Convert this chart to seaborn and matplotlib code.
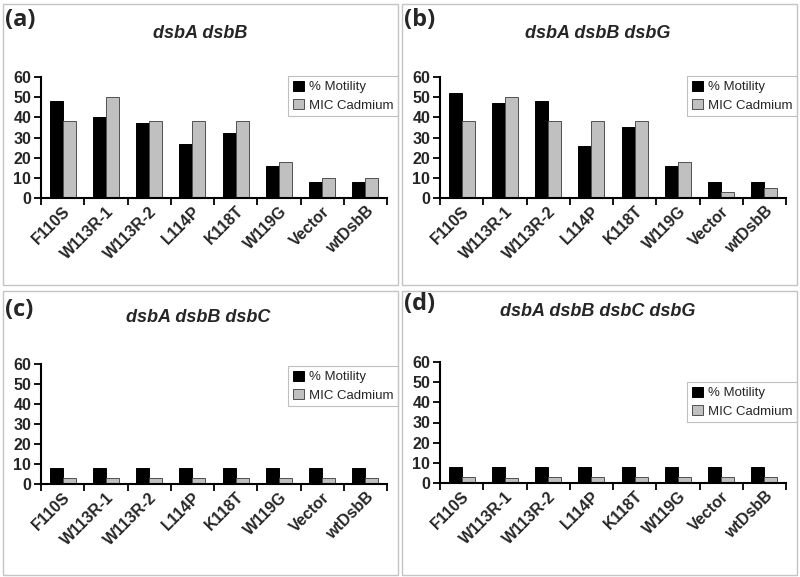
import pandas as pd
import matplotlib
matplotlib.use("Agg")
import matplotlib.pyplot as plt
import matplotlib.patches as mpatches
import seaborn as sns

# ── Data ──────────────────────────────────────────────
strains = ['F110S', 'W113R-1', 'W113R-2', 'L114P', 'K118T', 'W119G', 'Vector', 'wtDsbB']
series_names = ['% Motility', 'MIC Cadmium']

motility_a = [48, 40, 37, 27, 32, 16, 8, 8]
cadmium_a = [38, 50, 38, 38, 38, 18, 10, 10]
motility_b = [52, 47, 48, 26, 35, 16, 8, 8]
cadmium_b = [38, 50, 38, 38, 38, 18, 3, 5]
motility_c = [8, 8, 8, 8, 8, 8, 8, 8]
cadmium_c = [3, 3, 3, 3, 3, 3, 3, 3]
motility_d = [8, 8, 8, 8, 8, 8, 8, 8]
cadmium_d = [3, 2.5, 3, 3, 3, 3, 3, 3]

panel_tags = ['(a)', '(b)', '(c)', '(d)']
panel_titles = ['dsbA dsbB', 'dsbA dsbB dsbG', 'dsbA dsbB dsbC', 'dsbA dsbB dsbC dsbG']
panel_data = [(motility_a, cadmium_a), (motility_b, cadmium_b),
              (motility_c, cadmium_c), (motility_d, cadmium_d)]

colors = ['#000000', '#c0c0c0']
edges = ['#000000', '#505050']

sns.set_theme(style='white')
plt.rcParams['font.family'] = ['Liberation Sans', 'DejaVu Sans']

W, H = 800, 577
fig = plt.figure(figsize=(8, 5.77), dpi=100)

# pixel layouts: panel box, axes box, legend top-right corner, tag pos, title pos
layouts = [
    dict(box=(3, 4, 398, 285), ax=(41, 77, 387, 198), leg=(398, 76), tag=(5, 20), title=(200, 33)),
    dict(box=(402, 4, 797, 285), ax=(440, 77, 786, 198), leg=(797, 76), tag=(404, 20), title=(598, 33)),
    dict(box=(3, 291, 398, 575), ax=(41, 364, 387, 484), leg=(398, 366), tag=(5, 310), title=(198, 318)),
    dict(box=(402, 291, 797, 575), ax=(440, 362, 786, 483), leg=(797, 382), tag=(404, 304), title=(598, 312)),
]

for i, lay in enumerate(layouts):
    # panel frame
    x0, y0, x1, y1 = lay['box']
    fig.patches.append(mpatches.Rectangle((x0 / W, 1 - y1 / H), (x1 - x0) / W, (y1 - y0) / H,
                                          transform=fig.transFigure, fill=False,
                                          edgecolor='#c4c4c4', linewidth=1.0))
    # panel tag and title
    fig.text(lay['tag'][0] / W, 1 - lay['tag'][1] / H, panel_tags[i], fontsize=17,
             fontweight='bold', family=['Open Sans', 'DejaVu Sans'], va='center', ha='left')
    fig.text(lay['title'][0] / W, 1 - lay['title'][1] / H, panel_titles[i], fontsize=13,
             fontweight='bold', style='italic', va='center', ha='center')

    ax0, ay0, ax1, ay1 = lay['ax']
    ax = fig.add_axes([ax0 / W, 1 - ay1 / H, (ax1 - ax0) / W, (ay1 - ay0) / H])

    mot, cad = panel_data[i]
    df = pd.DataFrame({
        'Strain': strains * 2,
        'Value': mot + cad,
        'Measure': [series_names[0]] * len(strains) + [series_names[1]] * len(strains),
    })
    sns.barplot(data=df, x='Strain', y='Value', hue='Measure', palette=colors,
                width=0.6, ax=ax, legend=False, saturation=1)
    for cont, ec in zip(ax.containers, edges):
        for bar in cont:
            bar.set_edgecolor(ec)
            bar.set_linewidth(0.7)

    ax.set_xlim(-0.5, len(strains) - 0.5)
    ax.set_ylim(0, 60)
    ax.set_yticks(range(0, 61, 10))
    ax.set_xlabel('')
    ax.set_ylabel('')
    sns.despine(ax=ax)
    for s in ['left', 'bottom']:
        ax.spines[s].set_color('black')
        ax.spines[s].set_linewidth(1.5)

    # Excel-style tick marks between categories
    ax.set_xticks([k - 0.5 for k in range(len(strains) + 1)], minor=True)
    ax.tick_params(axis='x', which='major', length=0, pad=4)
    ax.tick_params(axis='x', which='minor', length=5, width=1.3, color='black', direction='out', bottom=True)
    ax.tick_params(axis='y', length=5, width=1.3, color='black', direction='out', left=True, pad=2)
    ax.set_xticks(range(len(strains)))
    ax.set_xticklabels(strains, rotation=45, ha='right', rotation_mode='anchor',
                       fontsize=11.5, fontweight='bold')
    for lbl in ax.get_yticklabels():
        lbl.set_fontsize(11.5)
        lbl.set_fontweight('bold')

    handles = [mpatches.Patch(facecolor=c, edgecolor=e, linewidth=0.7) for c, e in zip(colors, edges)]
    leg = ax.legend(handles, series_names, loc='upper right',
                    bbox_to_anchor=(lay['leg'][0] / W, 1 - lay['leg'][1] / H),
                    bbox_transform=fig.transFigure, fontsize=9.5, frameon=True, fancybox=False,
                    handlelength=0.8, handleheight=0.8, handletextpad=0.4, borderpad=0.35,
                    labelspacing=0.45, borderaxespad=0)
    leg.get_frame().set_edgecolor('#b0b0b0')
    leg.get_frame().set_linewidth(0.8)

fig.savefig('out.png', dpi=100)
plt.close(fig)
